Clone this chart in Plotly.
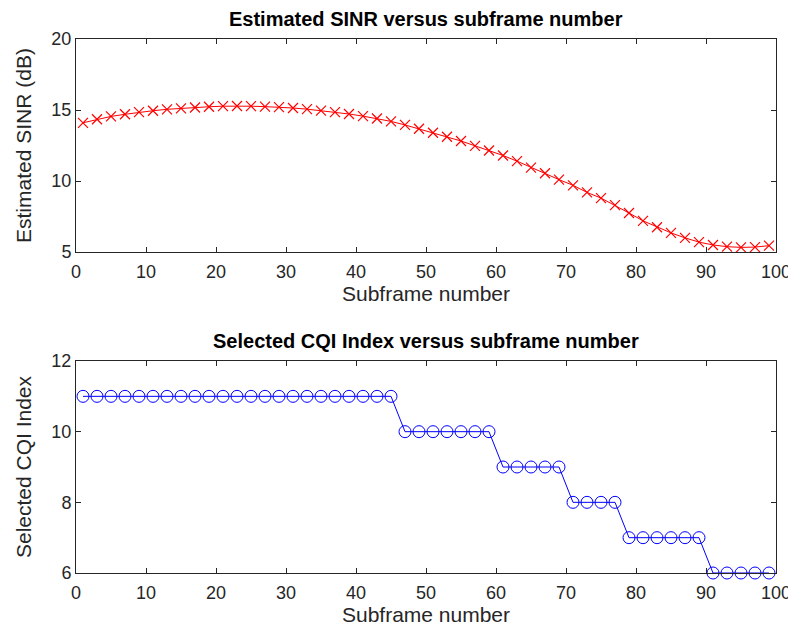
import plotly.graph_objects as go

subframes = list(range(1, 100, 2))
sinr_db = [14.1, 14.35, 14.55, 14.7, 14.85, 14.95, 15.05, 15.12, 15.18, 15.23,
           15.27, 15.28, 15.27, 15.24, 15.2, 15.14, 15.06, 14.96, 14.85, 14.72,
           14.57, 14.4, 14.2, 13.95, 13.68, 13.4, 13.12, 12.82, 12.48, 12.15,
           11.8, 11.4, 10.95, 10.55, 10.1, 9.7, 9.2, 8.8, 8.3, 7.75,
           7.2, 6.75, 6.35, 6.0, 5.7, 5.5, 5.38, 5.33, 5.35, 5.45]
cqi = [11] * 23 + [10] * 7 + [9] * 5 + [8] * 4 + [7] * 6 + [6] * 5

x_ticks = list(range(0, 101, 10))
sinr_ticks = [5, 10, 15, 20]
cqi_ticks = [6, 8, 10, 12]

title_top = "Estimated SINR versus subframe number"
title_bottom = "Selected CQI Index versus subframe number"
xlabel = "Subframe number"
ylabel_top = "Estimated SINR (dB)"
ylabel_bottom = "Selected CQI Index"

FONT = "Liberation Sans, Arial, sans-serif"
AX = "#262626"

fig = go.Figure()
fig.add_trace(go.Scatter(
    x=subframes, y=sinr_db, mode="lines+markers", xaxis="x", yaxis="y",
    line=dict(color="#ff0000", width=1),
    marker=dict(symbol="x-thin", size=10, color="#ff0000",
                line=dict(color="#ff0000", width=1.2)),
    cliponaxis=False, showlegend=False))
fig.add_trace(go.Scatter(
    x=subframes, y=cqi, mode="lines+markers", xaxis="x2", yaxis="y2",
    line=dict(color="#0000ff", width=1),
    marker=dict(symbol="circle-open", size=12, color="#0000ff",
                line=dict(color="#0000ff", width=1)),
    cliponaxis=False, showlegend=False))

axis_common = dict(showgrid=False, zeroline=False, showline=True, linecolor=AX,
                   linewidth=1, mirror="ticks", ticks="inside", ticklen=5,
                   tickcolor=AX, tickfont=dict(family=FONT, size=18, color=AX),
                   automargin=False, ticklabeloverflow="allow")
title_font = dict(family=FONT, size=21, color=AX)

fig.update_layout(
    width=788, height=636,
    paper_bgcolor="white", plot_bgcolor="white",
    margin=dict(l=68, r=20, t=31, b=71),
    font=dict(family=FONT, color=AX),
    xaxis=dict(domain=[0, 1], anchor="y", range=[0, 100], tickvals=x_ticks,
               ticklabelstandoff=3,
               title=dict(text=xlabel, font=title_font, standoff=4),
               **axis_common),
    yaxis=dict(domain=[0.601, 1], anchor="x", range=[5, 20], tickvals=sinr_ticks,
               title=dict(text=ylabel_top, font=title_font, standoff=14),
               **axis_common),
    xaxis2=dict(domain=[0, 1], anchor="y2", range=[0, 100], tickvals=x_ticks,
                ticklabelstandoff=3,
                title=dict(text=xlabel, font=title_font, standoff=4),
                **axis_common),
    yaxis2=dict(domain=[0, 0.397], anchor="x2", range=[6, 12], tickvals=cqi_ticks,
                title=dict(text=ylabel_bottom, font=title_font, standoff=14),
                **axis_common),
    annotations=[
        dict(text="<b>" + title_top + "</b>", x=0.5, y=1, xref="paper", yref="paper",
             xanchor="center", yanchor="bottom", yshift=7, showarrow=False,
             font=dict(family=FONT, size=20, color="black")),
        dict(text="<b>" + title_bottom + "</b>", x=0.5, y=0.397, xref="paper", yref="paper",
             xanchor="center", yanchor="bottom", yshift=7, showarrow=False,
             font=dict(family=FONT, size=20, color="black")),
    ],
)

fig.write_html("out.html")
